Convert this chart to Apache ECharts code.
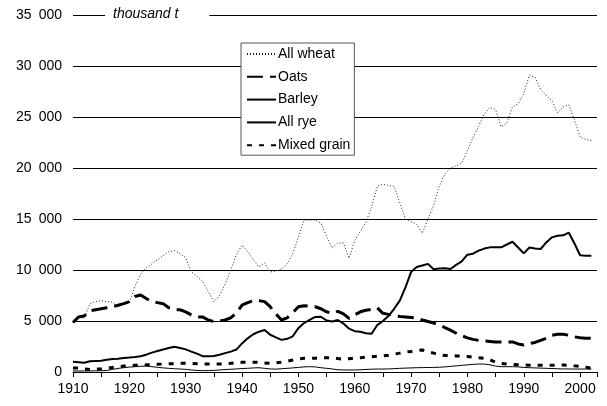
<!DOCTYPE html>
<html>
<head>
<meta charset="utf-8">
<script src="https://cdn.jsdelivr.net/npm/echarts@6/dist/echarts.min.js"></script>
<style>
  html, body { margin: 0; padding: 0; background: #fff; }
  #chart { width: 607px; height: 406px; }
</style>
</head>
<body>
<div id="chart"></div>
<script>
// annual values, thousand t, 1910..2002
const startYear = 1910
const seriesNames = ['All wheat', 'Oats', 'Barley', 'All rye', 'Mixed grain']

const wheat = [
  4800, 5400, 5300, 6700, 6900, 7000, 6900, 6850, 6400, 6600,
  6800, 8400, 9600, 10200, 10600, 11000, 11400, 11800, 11900, 11600,
  11200, 9800, 9400, 8900, 7900, 6900, 7500, 8600, 10000, 11500,
  12450, 11800, 11000, 10300, 10700, 9800, 9900, 10100, 10600, 11600,
  13200, 14900, 14900, 14900, 14600, 13300, 12150, 12650, 12650, 11150,
  12900, 13800, 14700, 16200, 18200, 18400, 18300, 18200, 16600, 15000,
  14750, 14500, 13600, 15000, 16300, 18200, 19400, 20000, 20200, 20500,
  21700, 23000, 24100, 25300, 25950, 25700, 24050, 24400, 26000, 26300,
  27300, 29100, 28900, 27700, 27100, 26600, 25400, 26000, 26200, 24700,
  23050, 22800, 22700
]
const oats = [
  4850, 5400, 5500, 6000, 6100, 6200, 6300, 6400, 6550, 6700,
  6900, 7400, 7550, 7200, 6900, 6800, 6700, 6300, 6100, 6100,
  5900, 5600, 5400, 5400, 5100, 4950, 5000, 5100, 5300, 5800,
  6550, 6800, 7000, 7000, 6900, 6400, 5700, 5100, 5300, 5800,
  6400, 6500, 6450, 6400, 6200, 5900, 5750, 5950, 5700, 5250,
  5600, 5900, 6050, 6150, 6300, 5750, 5650, 5550, 5450, 5400,
  5350, 5300, 5100, 4950, 4800, 4600, 4350, 4100, 3800, 3550,
  3350, 3200, 3100, 3050, 3000, 2950, 2950, 2950, 2950, 2750,
  2650, 2800, 2900, 3100, 3300, 3600, 3700, 3700, 3600, 3450,
  3350, 3300, 3300
]
const barley = [
  1000, 950, 900, 1050, 1080, 1100, 1200, 1270, 1300, 1370,
  1420, 1480, 1550, 1700, 1900, 2050, 2200, 2350, 2480, 2350,
  2220, 2000, 1800, 1550, 1550, 1570, 1700, 1850, 2000, 2200,
  2800, 3300, 3700, 3950, 4120, 3650, 3400, 3150, 3250, 3500,
  4300, 4800, 5100, 5400, 5420, 5050, 4950, 5100, 4750, 4250,
  4000, 3950, 3800, 3750, 4600, 5000, 5500, 6200, 7000, 8300,
  9800, 10300, 10450, 10600, 10070, 10150, 10160, 10100, 10500, 10850,
  11500, 11600, 11900, 12100, 12220, 12220, 12220, 12500, 12770, 12200,
  11630, 12200, 12100, 12060, 12700, 13200, 13350, 13400, 13660, 12600,
  11450, 11400, 11400
]
const rye = [
  100, 100, 100, 100, 120, 120, 150, 250, 350, 420,
  480, 520, 560, 580, 520, 460, 400, 360, 320, 290,
  260, 200, 150, 130, 140, 160, 200, 240, 270, 300,
  340, 360, 400, 420, 360, 300, 280, 320, 360, 400,
  450, 500, 520, 500, 420, 360, 300, 220, 200, 200,
  200, 220, 250, 280, 290, 290, 300, 330, 360, 380,
  400, 420, 430, 440, 450, 470, 500, 550, 600, 650,
  700, 750, 780, 780, 700, 580, 520, 520, 520, 500,
  450, 420, 400, 380, 360, 340, 320, 300, 300, 290,
  290, 290, 290
]
const mixedGrain = [
  400, 380, 300, 250, 280, 300, 380, 450, 520, 580,
  620, 660, 690, 700, 720, 750, 780, 800, 820, 850,
  850, 850, 820, 780, 780, 780, 780, 800, 850, 920,
  950, 950, 950, 950, 880, 850, 900, 950, 1050, 1180,
  1280, 1340, 1340, 1360, 1380, 1400, 1400, 1320, 1250, 1300,
  1360, 1400, 1450, 1500, 1550, 1570, 1650, 1750, 1850, 1950,
  2020, 2100, 2150, 2000, 1850, 1700, 1620, 1600, 1580, 1570,
  1520, 1450, 1400, 1340, 1200, 950, 850, 780, 730, 700,
  690, 670, 650, 650, 650, 660, 670, 690, 650, 600,
  550, 480, 380
]
const years = wheat.map((_, i) => startYear + i)

const font = "'Liberation Sans', Arial, sans-serif"

const toPairs = arr => arr.map((v, i) => [years[i], v])

// thousands grouped with a wide space, as in the original
const fmtThousands = v => String(v).replace(/\B(?=(\d{3})+(?!\d))/g, '\u2002')

const chart = echarts.init(document.getElementById('chart'), null, { renderer: 'canvas' })

const lineSeries = (name, data, style) => ({
  name,
  type: 'line',
  data: toPairs(data),
  symbol: 'none',
  showSymbol: false,
  lineStyle: Object.assign({ color: '#000' }, style),
  itemStyle: { color: '#000' }
})

const option = {
  animation: false,
  backgroundColor: '#fff',
  textStyle: { fontFamily: font },
  title: {
    text: 'thousand t',
    left: 105,
    top: 6,
    padding: [1, 31, 1, 8],
    backgroundColor: '#fff',
    textStyle: { fontSize: 14, fontStyle: 'italic', fontWeight: 'normal', color: '#000', fontFamily: font }
  },
  legend: {
    orient: 'vertical',
    left: 241,
    top: 43,
    padding: [4, 4, 3, 5],
    itemGap: 8.8,
    itemWidth: 29,
    itemHeight: 14,
    borderColor: '#555',
    borderWidth: 1,
    backgroundColor: '#fff',
    itemStyle: { color: 'rgba(0,0,0,0)', borderWidth: 0 },
    textStyle: { fontSize: 14, color: '#000', fontFamily: font, padding: [0, 0, 0, -3] },
    data: seriesNames
  },
  grid: { left: 73, right: 10, top: 15, bottom: 34, containLabel: false },
  xAxis: {
    type: 'value',
    min: 1910,
    max: 2003,
    interval: 5,
    axisLine: { show: true, lineStyle: { color: '#000', width: 1 } },
    axisTick: { show: true, length: 5, lineStyle: { color: '#000' } },
    splitLine: { show: false },
    axisLabel: {
      color: '#000',
      fontSize: 14,
      margin: 10,
      fontFamily: font,
      formatter: v => (v % 10 === 0 ? String(v) : '')
    }
  },
  yAxis: {
    type: 'value',
    min: 0,
    max: 35000,
    interval: 5000,
    axisLine: { show: false },
    axisTick: { show: false },
    splitLine: { show: true, lineStyle: { color: '#000', width: 1 } },
    axisLabel: {
      color: '#000',
      fontSize: 14,
      margin: 11,
      fontFamily: font,
      formatter: v => fmtThousands(v)
    }
  },
  series: [
    lineSeries('All wheat', wheat, { width: 1, type: [1, 2], color: '#222' }),
    lineSeries('Oats', oats, { width: 3, type: [16, 7] }),
    lineSeries('Barley', barley, { width: 2 }),
    lineSeries('All rye', rye, { width: 1 }),
    lineSeries('Mixed grain', mixedGrain, { width: 3, type: [5, 7] })
  ]
}

chart.setOption(option)
</script>
</body>
</html>
